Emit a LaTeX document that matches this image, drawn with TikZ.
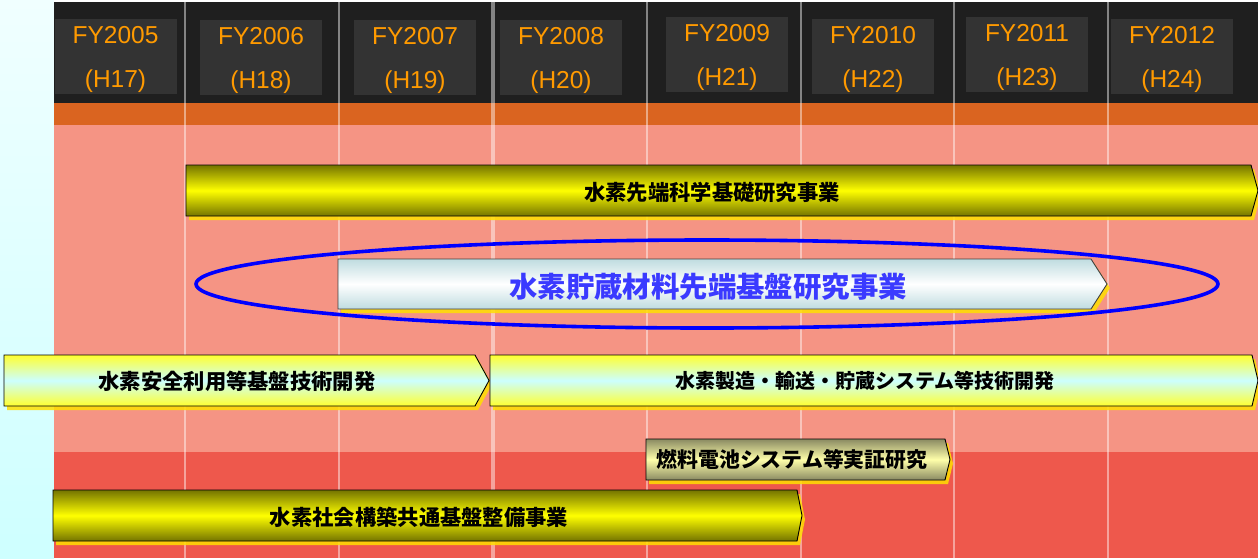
\documentclass[tikz,border=0pt]{standalone}
\usepackage{fontspec}
\setmainfont{Liberation Sans}
\newfontfamily\cjk{Noto Sans CJK JP}
\definecolor{hdrdark}{HTML}{1F1F1F}
\definecolor{hdrbox}{HTML}{333333}
\definecolor{yeartext}{HTML}{FF9A00}
\definecolor{bandorange}{HTML}{DA6420}
\definecolor{salmon}{HTML}{F59484}
\definecolor{redzone}{HTML}{EE584C}
\definecolor{leftcyanA}{HTML}{F0FFFF}
\definecolor{leftcyanB}{HTML}{CEFFFF}
\definecolor{olivedark}{HTML}{747400}
\definecolor{pureyellow}{HTML}{FFFF00}
\definecolor{lightcyan}{HTML}{CCFFFF}
\definecolor{barYel}{HTML}{FFFF30}
\definecolor{tealgray}{HTML}{BFDCE0}
\definecolor{khakidark}{HTML}{8A8A62}
\definecolor{paleyellow}{HTML}{FFFFAA}
\definecolor{ovalblue}{HTML}{0000FF}
\definecolor{titleblue}{HTML}{3A3AFF}
\definecolor{glow}{HTML}{FFE000}
\tikzset{
  yearbox/.style={fill=hdrbox, minimum width=122pt, minimum height=75pt, inner sep=0pt},
  yeartxt/.style={inner sep=0pt, text=yeartext, align=center, font=\fontsize{24.5}{44}\selectfont},
  gridline/.style={draw=white, draw opacity=0.45, line width=2.2pt},
  olivebar/.style={draw=black, line width=0.9pt, top color=olivedark, bottom color=olivedark, middle color=pureyellow},
  cyanbar/.style={draw=black, line width=0.9pt, top color=barYel, bottom color=barYel, middle color=lightcyan},
  whitebar/.style={draw=black!75, line width=0.9pt, top color=tealgray, bottom color=tealgray, middle color=white},
  khakibar/.style={draw=black, line width=0.9pt, top color=khakidark, bottom color=khakidark, middle color=paleyellow},
  glowshape/.style={fill=glow, fill opacity=0.85},
  bartext/.style={inner sep=0pt, font=\cjk\bfseries\fontsize{21.3}{24}\selectfont, text=black},
  bigtext/.style={inner sep=0pt, font=\cjk\bfseries\fontsize{28.4}{32}\selectfont, text=titleblue},
  oval/.style={draw=ovalblue, line width=3.6pt}
}
% #1 x left, #2 y top, #3 x body end, #4 x tip, #5 y bottom, #6 style
\newcommand{\sigbar}[6]{%
  \path[glowshape] ({#1+3},{#2+4}) -- ({#3+3},{#2+4}) -- ({#4+3},{(#2+#5)/2+4}) -- ({#3+3},{#5+4}) -- ({#1+3},{#5+4}) -- cycle;
  \path[#6] (#1,#2) -- (#3,#2) -- (#4,{(#2+#5)/2}) -- (#3,#5) -- (#1,#5) -- cycle;}
\begin{document}
\begin{tikzpicture}[x=1pt,y=-1pt]
\useasboundingbox (0,0) rectangle (1258,558);
% backgrounds
\shade[top color=leftcyanA, bottom color=leftcyanB] (0,0) rectangle (54,558);
\fill[white] (54,0) rectangle (1258,2);
\fill[hdrdark] (54,2) rectangle (1258,103);
\fill[bandorange] (54,103) rectangle (1258,125);
\fill[salmon] (54,125) rectangle (1258,452);
\fill[redzone] (54,452) rectangle (1258,558);
% grid lines
\foreach \gx in {185,339,647,801,954,1108} {
  \draw[gridline] (\gx,2) -- (\gx,558);
}
\draw[gridline, line width=4pt] (493,2) -- (493,558);
% year boxes
\node[yearbox] (y05) at (115.5,56.5) {};
\node[yearbox] (y06) at (261,57.5) {};
\node[yearbox] (y07) at (415,57) {};
\node[yearbox] (y08) at (561,57.5) {};
\node[yearbox] (y09) at (727,54.5) {};
\node[yearbox] (y10) at (873,56.5) {};
\node[yearbox] (y11) at (1027,54.5) {};
\node[yearbox] (y12) at (1172,56.5) {};
\node[yeartxt] (t05) at ([yshift=-3pt]y05.center) {FY2005\\(H17)};
\node[yeartxt] (t06) at ([yshift=-3pt]y06.center) {FY2006\\(H18)};
\node[yeartxt] (t07) at ([yshift=-3pt]y07.center) {FY2007\\(H19)};
\node[yeartxt] (t08) at ([yshift=-3pt]y08.center) {FY2008\\(H20)};
\node[yeartxt] (t09) at ([yshift=-3pt]y09.center) {FY2009\\(H21)};
\node[yeartxt] (t10) at ([yshift=-3pt]y10.center) {FY2010\\(H22)};
\node[yeartxt] (t11) at ([yshift=-3pt]y11.center) {FY2011\\(H23)};
\node[yeartxt] (t12) at ([yshift=-3pt]y12.center) {FY2012\\(H24)};
% bars
\sigbar{186}{165}{1251}{1258}{216}{olivebar}
\node[bartext] (b1) at (712,192) {水素先端科学基礎研究事業};
\sigbar{338}{259}{1091}{1107}{309}{whitebar}
\node[bigtext] (b2) at (708,287) {水素貯蔵材料先端基盤研究事業};
\sigbar{4}{355}{475}{489}{406}{cyanbar}
\node[bartext] (b3) at (237,381) {水素安全利用等基盤技術開発};
\sigbar{490}{355}{1252}{1258}{406}{cyanbar}
\node[bartext, font=\cjk\bfseries\fontsize{20}{24}\selectfont] (b4) at (865,381) {水素製造・輸送・貯蔵システム等技術開発};
\sigbar{646}{439}{945}{950}{480}{khakibar}
\node[bartext, font=\cjk\bfseries\fontsize{20.9}{24}\selectfont] (b5) at (792,460) {燃料電池システム等実証研究};
\sigbar{53}{490}{797}{802}{541}{olivebar}
\node[bartext] (b6) at (419,517) {水素社会構築共通基盤整備事業};
% ellipse
\draw[oval] (707,284) ellipse [x radius=511, y radius=44];
\end{tikzpicture}
\end{document}
